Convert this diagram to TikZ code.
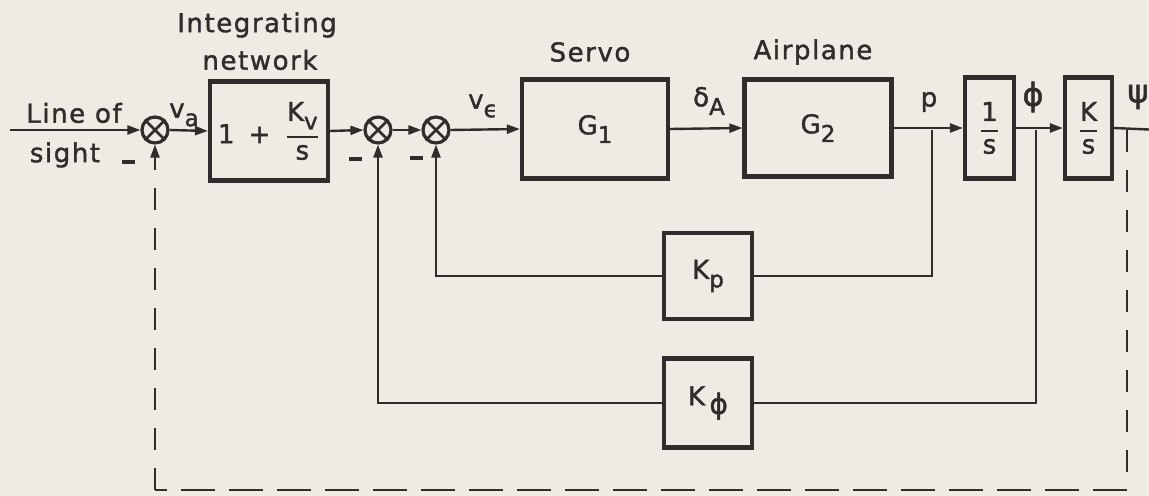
\documentclass[tikz,border=0pt]{standalone}
\usepackage{fontspec}
\usepackage{amsmath}
\setmainfont{DejaVu Sans}[LetterSpace=6,FakeBold=1.5,AutoFakeBold=1.5]
\usetikzlibrary{arrows.meta}
\definecolor{paper}{RGB}{238,235,229}
\definecolor{ink}{RGB}{48,44,44}
\newcommand\sbs[1]{\raisebox{-0.6ex}{\fontsize{11.5}{13}\selectfont #1}}
\newcommand\bfr[2]{$\genfrac{}{}{1.1pt}{0}{\text{#1}}{\text{#2}}$}
\newcommand\mns{\rule{6.5pt}{1.8pt}}
\begin{document}
\begin{tikzpicture}[x=0.5pt,y=-0.5pt,
  every node/.style={text=ink,font=\fontsize{13}{15}\selectfont},
  blk/.style={draw=ink,line width=2.1pt,inner sep=0pt},
  sumj/.style={circle,draw=ink,line width=1.6pt,minimum size=13pt,inner sep=0pt},
  conn/.style={draw=ink,line width=1.2pt},
  arr/.style={conn,-{Triangle[length=6.5pt,width=4.5pt]}},
  vdash/.style={conn,dash pattern=on 11pt off 9pt},
  hdash/.style={conn,dash pattern=on 17pt off 7pt},
  lbl/.style={inner sep=0pt},
  big/.style={font=\fontsize{16}{18}\selectfont}]
\fill[paper] (0,0) rectangle (1149,496);
\useasboundingbox (0,0) rectangle (1149,496);

% junctions
\node[sumj] (s1) at (155,130) {};
\node[sumj] (s2) at (378,130) {};
\node[sumj] (s3) at (436,130) {};
\foreach \s in {s1,s2,s3}{
  \draw[ink,line width=1.3pt] (\s.north west) -- (\s.south east) (\s.north east) -- (\s.south west);}

% blocks
\node[blk,minimum width=59pt,minimum height=49.5pt] (intg) at (269,131)
  {1\, +\, \bfr{K\sbs{v}}{s}};
\node[blk,minimum width=73pt,minimum height=49.5pt] (servo) at (595,129) {G\sbs{1}};
\node[blk,minimum width=73.5pt,minimum height=48.5pt] (plane) at (818,128) {G\sbs{2}};
\node[blk,minimum width=24.5pt,minimum height=50.5pt] (ints) at (989.5,128) {\bfr{1}{s}};
\node[blk,minimum width=23.5pt,minimum height=50.5pt] (ks) at (1088.5,128) {\bfr{K}{s}};
\node[blk,minimum width=44pt,minimum height=43pt] (kp) at (708,276) {K\sbs{p}};
\node[blk,minimum width=44pt,minimum height=44.5pt] (kphi) at (708,403) {K\,\sbs{\fontsize{14}{15}\selectfont ϕ}};

% titles and labels
\node[lbl] (tint1) at (257,25) {Integrating};
\node[lbl] (tint2) at (260,60) {network};
\node[lbl] (tservo) at (590,52) {Servo};
\node[lbl] (tplane) at (813,52) {Airplane};
\node[lbl] (tlos1) at (74,113) {Line of};
\node[lbl] (tlos2) at (65,155) {sight};
\node[lbl] (m1) at (128,162) {\mns};
\node[lbl] (m2) at (355,159) {\mns};
\node[lbl] (m3) at (416,158) {\mns};
\node[lbl] (lva) at (184,115) {v\sbs{a}};
\node[lbl] (lve) at (483,106) {v\sbs{ϵ}};
\node[lbl] (lda) at (709,101) {δ\sbs{A}};
\node[lbl] (lp) at (929,102) {p};
\node[lbl,big] (lphi) at (1033,97) {ϕ};
\node[lbl,big] (lpsi) at (1138,97) {ψ};

% coordinates
\coordinate (in) at (10,130);
\coordinate (out) at (1160,130);
\coordinate (bp) at (932,130);
\coordinate (bphi) at (1036,130);
\coordinate (bpsi) at (1127,130);
\coordinate (c1) at (1127,490);
\coordinate (c2) at (155,490);
\coordinate (c3) at (155,170);

% forward path
\draw[arr] (in) -- (s1.west);
\draw[arr] (s1.east) -- (intg.west);
\draw[arr] (intg.east) -- (s2.west);
\draw[arr] (s2.east) -- (s3.west);
\draw[arr] (s3.east) -- (servo.west);
\draw[arr] (servo.east) -- (plane.west);
\draw[arr] (plane.east) -- (ints.west);
\draw[arr] (ints.east) -- (ks.west);
\draw[conn] (ks.east) -- (out);

% feedback
\draw[conn] (bp) |- (kp.east);
\draw[arr] (kp.west) -| (s3.south);
\draw[conn] (bphi) |- (kphi.east);
\draw[arr] (kphi.west) -| (s2.south);
\draw[vdash] (bpsi) -- (c1);
\draw[hdash] (c1) -- (c2);
\draw[vdash] (c2) -- (c3);
\draw[arr] (c3) -- (s1.south);
\end{tikzpicture}
\end{document}
